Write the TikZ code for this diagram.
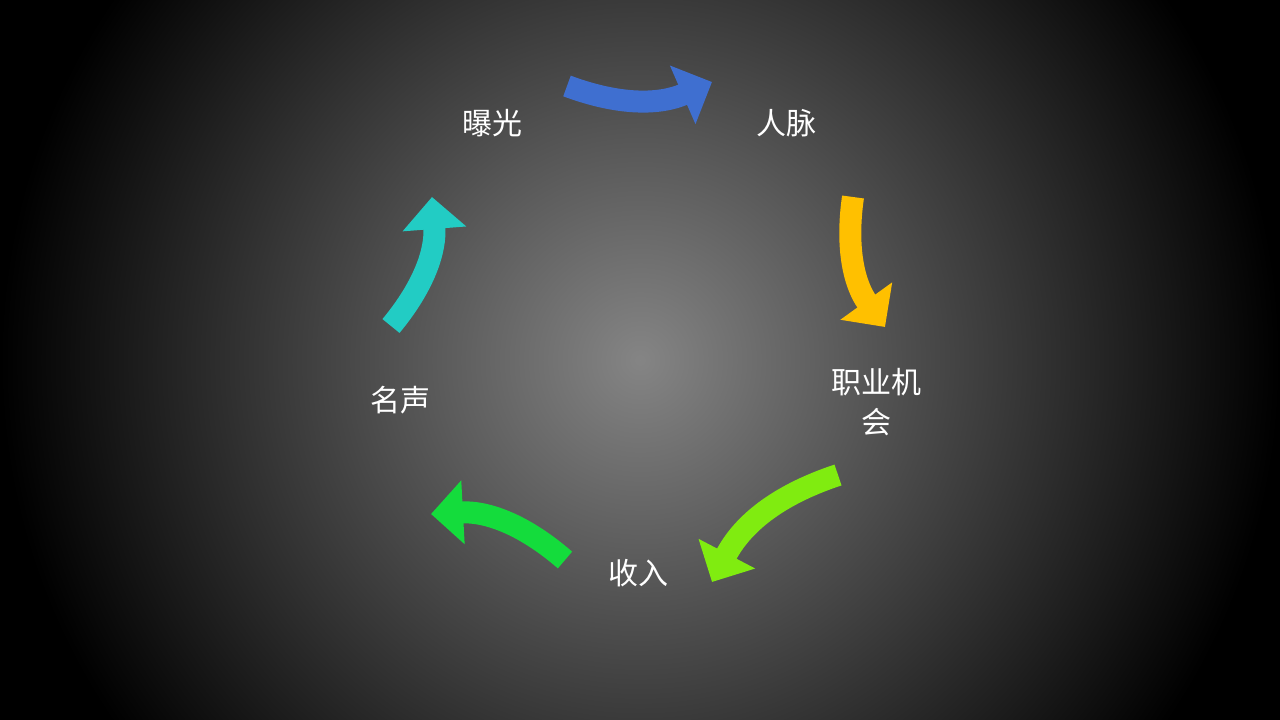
\documentclass[tikz,border=0pt]{standalone}
\usepackage{fontspec}
\newfontfamily\cjk{Noto Sans CJK SC}
\usetikzlibrary{arrows.meta}
\definecolor{cblue}{HTML}{3F6FD0}
\definecolor{cyel}{HTML}{FFC000}
\definecolor{clime}{HTML}{80EC10}
\definecolor{cgreen}{HTML}{14DC3C}
\definecolor{ccyan}{HTML}{22CCC4}
\tikzset{
  lbl/.style={text=white,font=\cjk\fontsize{30}{40}\selectfont,align=center},
  carrow/.style={line width=22pt,-{Triangle[width=62pt,length=32pt]},bend left=#1},
}
\begin{document}
\begin{tikzpicture}[x=1pt,y=-1pt]
\useasboundingbox (0,0) rectangle (1280,720);
\fill[black] (0,0) rectangle (1280,720);
\shade[inner color=black!48,outer color=black] (640,360) circle (640);
\node[lbl] (a) at (492,123) {曝光};
\node[lbl] (b) at (786,123) {人脉};
\node[lbl] (c) at (876,402) {职业机\\会};
\node[lbl] (d) at (638,573) {收入};
\node[lbl] (e) at (400,400) {名声};
\coordinate (a1) at (567,86); \coordinate (a2) at (712,82);
\coordinate (b1) at (853,197); \coordinate (b2) at (885,327);
\coordinate (c1) at (838,475); \coordinate (c2) at (712,582);
\coordinate (d1) at (565,560); \coordinate (d2) at (431,514);
\coordinate (e1) at (391,326); \coordinate (e2) at (432,197);
\draw[carrow=-22,cblue] (a1) to (a2);
\draw[carrow=-22,cyel] (b1) to (b2);
\draw[carrow=-22,clime] (c1) to (c2);
\draw[carrow=-22,cgreen] (d1) to (d2);
\draw[carrow=-22,ccyan] (e1) to (e2);
\end{tikzpicture}
\end{document}
